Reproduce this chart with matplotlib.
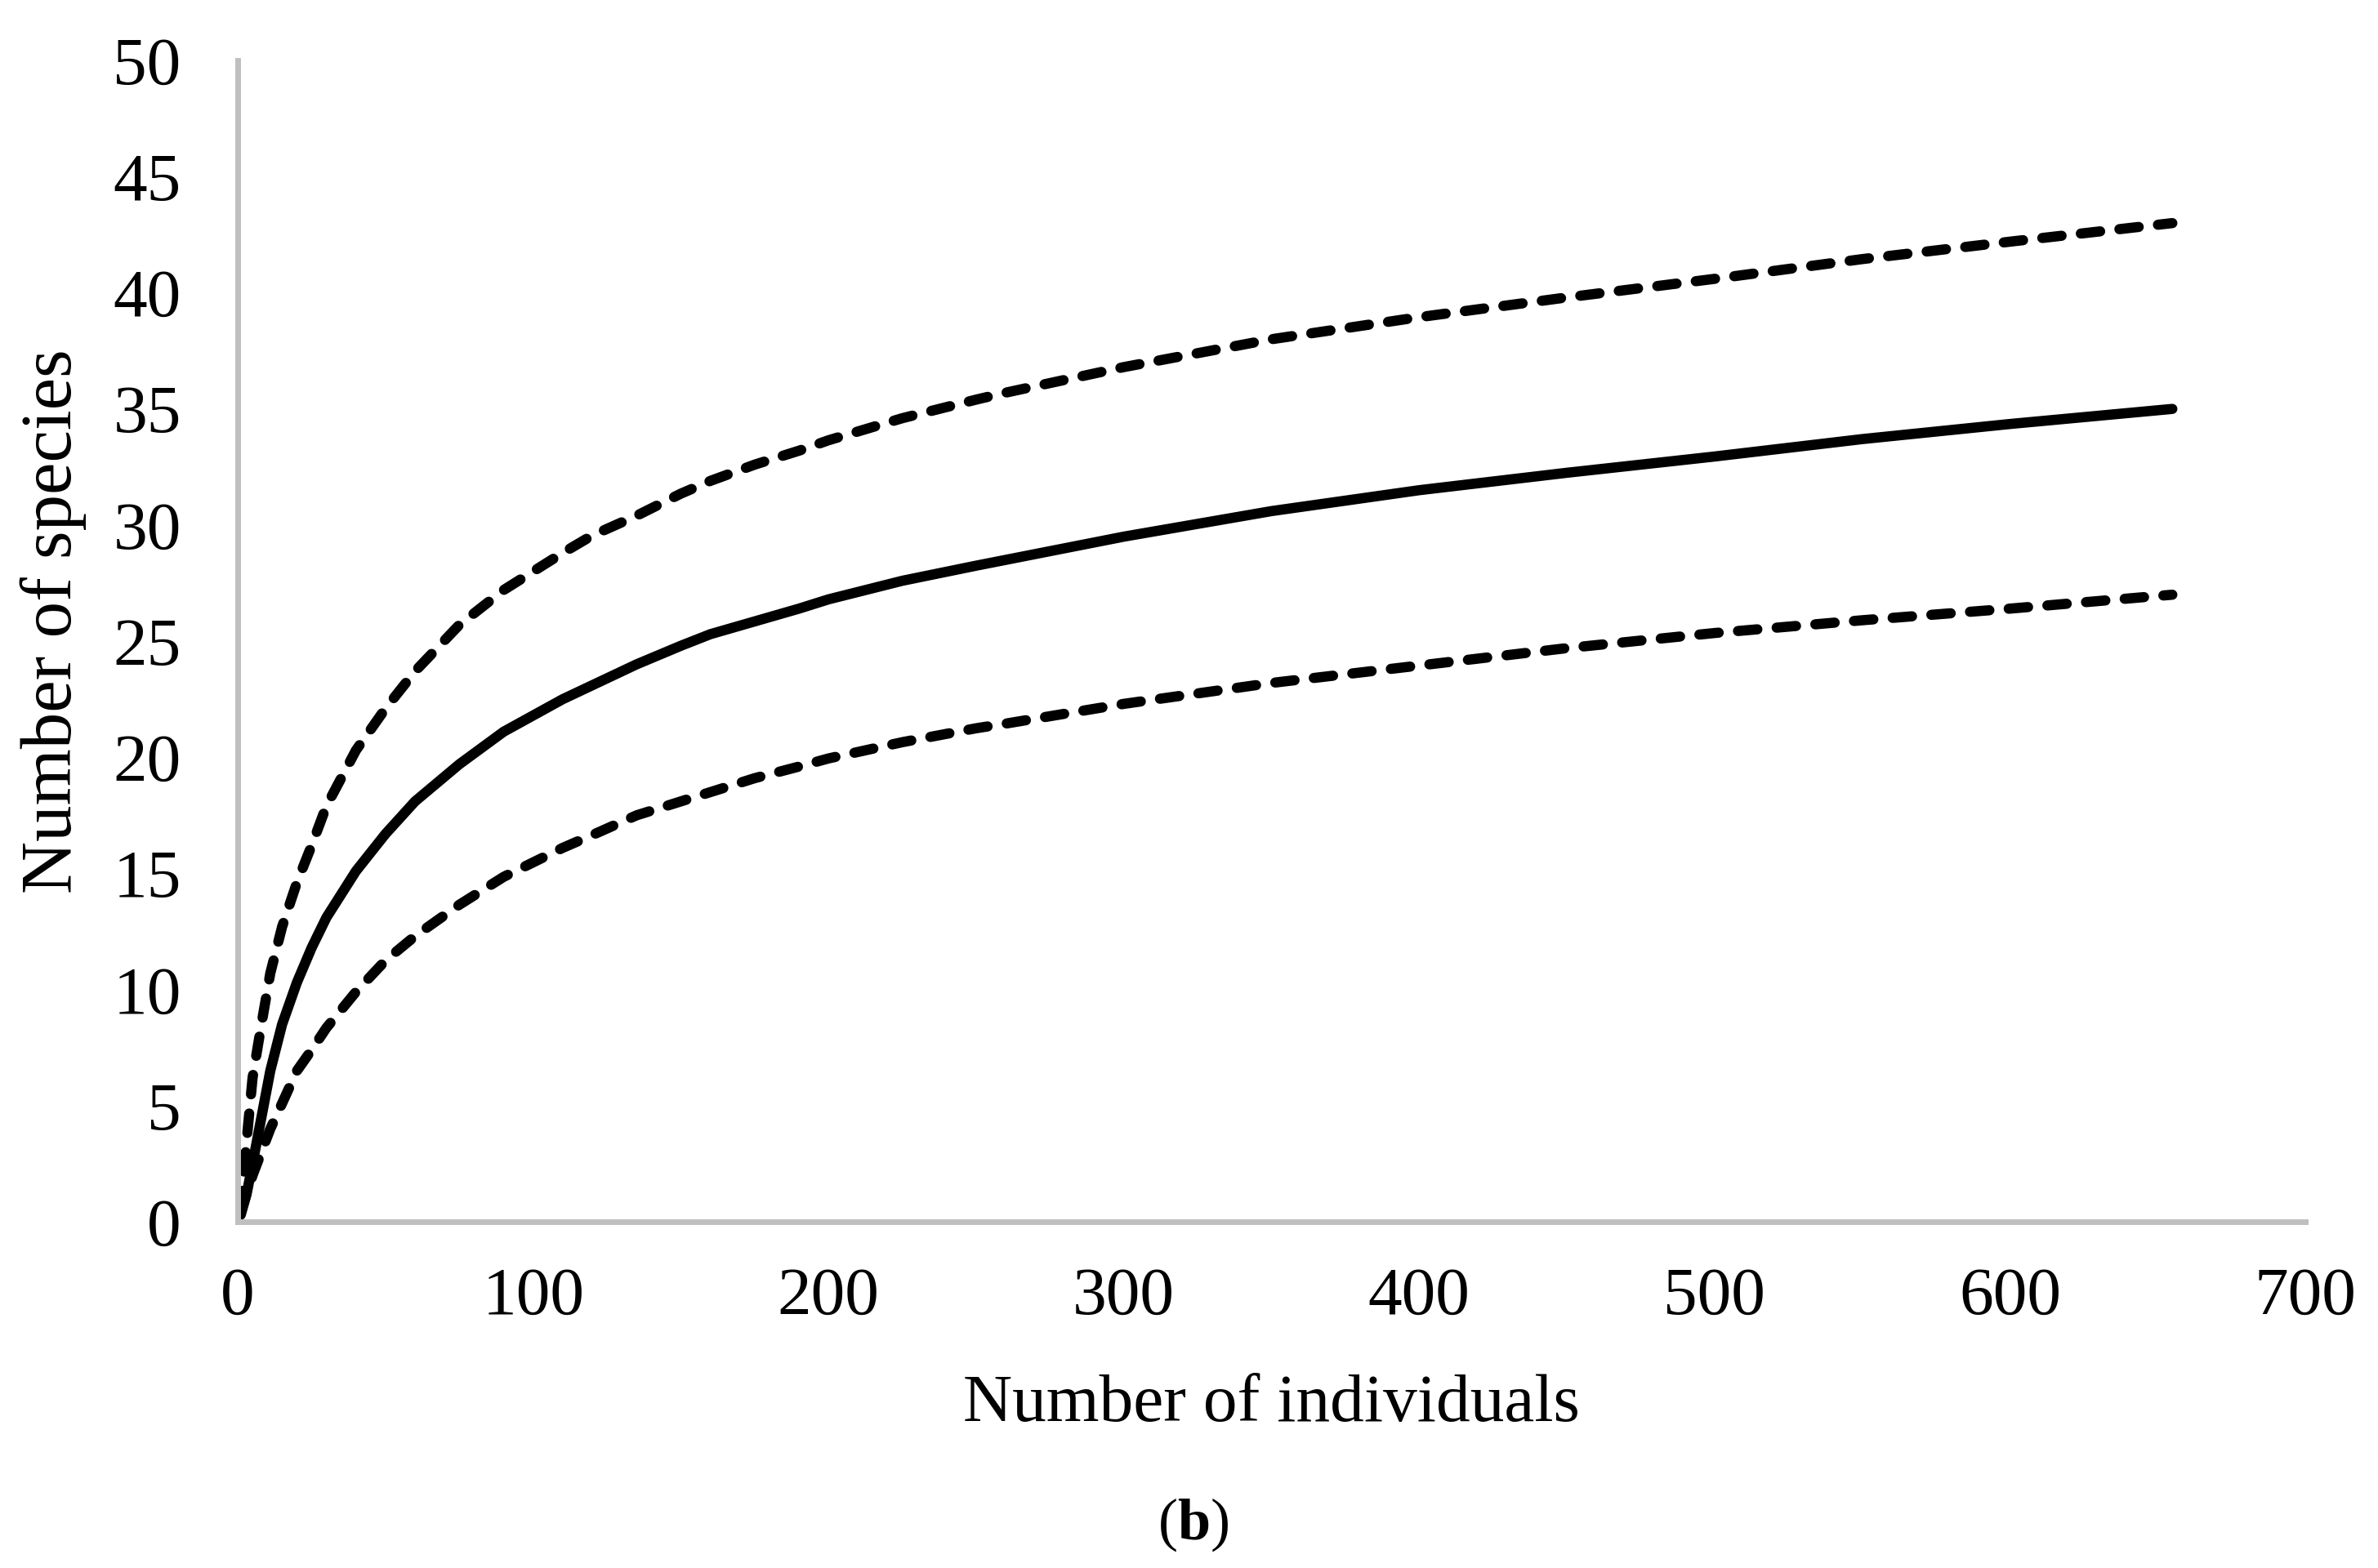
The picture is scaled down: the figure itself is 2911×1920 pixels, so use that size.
"""Rarefaction curve with 95% confidence bounds."""

import matplotlib

matplotlib.use("Agg")

import matplotlib.pyplot as plt

# number of individuals sampled
n_individuals = [1, 3, 5, 8, 11, 15, 20, 25, 30, 40, 50, 60, 75, 90, 110, 120, 135,
                 150, 160, 175, 190, 200, 225, 250, 260, 300, 350, 400, 450, 500,
                 550, 600, 655]

# expected number of species (rarefied)
species_mean = [0.5, 1.2, 2.5, 4.5, 6.5, 8.5, 10.3, 11.8, 13.1, 15.1, 16.7, 18.1,
                19.7, 21.1, 22.5, 23.1, 24.0, 24.8, 25.3, 25.85, 26.4, 26.8, 27.6,
                28.25, 28.5, 29.5, 30.6, 31.5, 32.25, 32.95, 33.7, 34.35, 35.0]

# upper confidence bound
species_upper = [0.5, 3.5, 6.2, 8.5, 10.7, 12.7, 14.6, 16.2, 17.9, 20.3, 22.1, 23.7,
                 25.7, 27.2, 28.8, 29.55, 30.4, 31.35, 31.9, 32.6, 33.2, 33.65, 34.6,
                 35.4, 35.7, 36.8, 38.0, 38.95, 39.8, 40.6, 41.45, 42.2, 43.0]

# lower confidence bound
species_lower = [0.3, 1.2, 2.0, 3.0, 4.0, 5.1, 6.5, 7.4, 8.35, 9.9, 11.25, 12.3,
                 13.65, 14.85, 16.1, 16.65, 17.5, 18.1, 18.5, 19.1, 19.6, 19.95,
                 20.65, 21.25, 21.45, 22.3, 23.2, 23.95, 24.7, 25.35, 25.9, 26.4, 27.0]

x_ticks = [0, 100, 200, 300, 400, 500, 600, 700]
y_ticks = [0, 5, 10, 15, 20, 25, 30, 35, 40, 45, 50]

plt.rcParams["font.family"] = ["Liberation Serif", "DejaVu Serif"]
plt.rcParams["mathtext.fontset"] = "custom"
plt.rcParams["mathtext.rm"] = "Liberation Serif"
plt.rcParams["mathtext.bf"] = "Liberation Serif:bold"

fig = plt.figure(figsize=(29.11, 19.20), dpi=100)
ax = fig.add_axes([0.1000, 0.2208, 0.8694, 0.7406])

lw = 9.0
ax.plot(n_individuals, species_mean, color="black", lw=lw,
        solid_capstyle="round", solid_joinstyle="round")
for series in (species_upper, species_lower):
    ax.plot(n_individuals, series, color="black", lw=lw, ls=(0, (1.9, 1.9)),
            dash_capstyle="round", dash_joinstyle="round")

ax.set_xlim(0, 700)
ax.set_ylim(0, 50)
ax.set_xticks(x_ticks)
ax.set_yticks(y_ticks)
ax.tick_params(axis="both", length=0, labelsize=60, colors="black")
ax.tick_params(axis="x", pad=40)
ax.tick_params(axis="y", pad=50)

for side in ("top", "right"):
    ax.spines[side].set_visible(False)
for side in ("left", "bottom"):
    ax.spines[side].set_color("#BFBFBF")
    ax.spines[side].set_linewidth(5)

ax.set_xlabel("Number of individuals", fontsize=60)
ax.xaxis.set_label_coords(0.5, -0.158)
ax.xaxis.label.set_va("center")
ax.set_ylabel("Number of species", fontsize=64)
ax.yaxis.set_label_coords(-0.0893, 0.517)
ax.yaxis.label.set_va("center")

fig.text(0.5017, 0.0276, r"($\mathbf{b}$)", fontsize=52, ha="center", va="center")

fig.savefig("out.png", dpi=100)
plt.close(fig)
